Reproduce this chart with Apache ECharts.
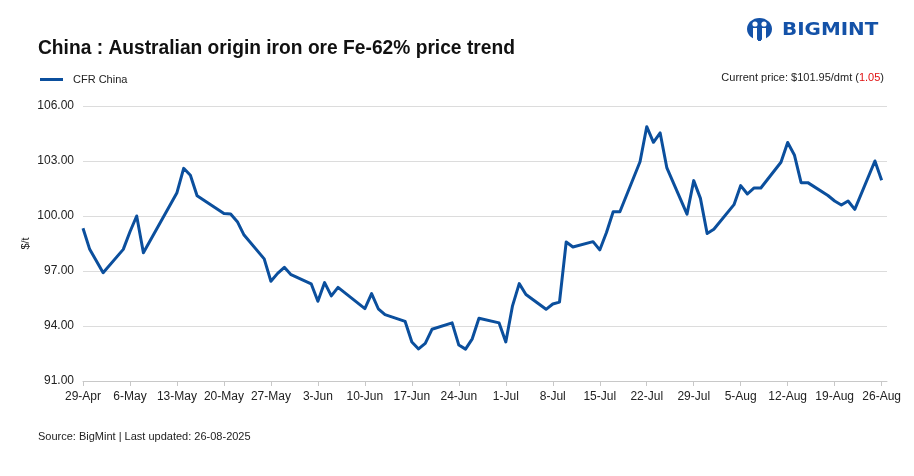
<!DOCTYPE html>
<html>
<head>
<meta charset="utf-8">
<script src="https://cdn.jsdelivr.net/npm/echarts@6/dist/echarts.min.js"></script>
<style>
html,body{margin:0;padding:0;background:#fff;}
#chart{width:914px;height:476px;}
</style>
</head>
<body>
<div id="chart"></div>
<script>
// ---- data ----
var startDate = '2025-04-29';
var dates = [
 '2025-04-29','2025-04-30','2025-05-02','2025-05-05','2025-05-06','2025-05-07','2025-05-08',
 '2025-05-13','2025-05-14','2025-05-15','2025-05-16','2025-05-20','2025-05-21','2025-05-22','2025-05-23',
 '2025-05-26','2025-05-27','2025-05-28','2025-05-29','2025-05-30',
 '2025-06-02','2025-06-03','2025-06-04','2025-06-05','2025-06-06',
 '2025-06-10','2025-06-11','2025-06-12','2025-06-13',
 '2025-06-16','2025-06-17','2025-06-18','2025-06-19','2025-06-20',
 '2025-06-23','2025-06-24','2025-06-25','2025-06-26','2025-06-27',
 '2025-06-30','2025-07-01','2025-07-02','2025-07-03','2025-07-04',
 '2025-07-07','2025-07-08','2025-07-09','2025-07-10','2025-07-11',
 '2025-07-14','2025-07-15','2025-07-16','2025-07-17','2025-07-18',
 '2025-07-21','2025-07-22','2025-07-23','2025-07-24','2025-07-25',
 '2025-07-28','2025-07-29','2025-07-30','2025-07-31','2025-08-01',
 '2025-08-04','2025-08-05','2025-08-06','2025-08-07','2025-08-08',
 '2025-08-11','2025-08-12','2025-08-13','2025-08-14','2025-08-15',
 '2025-08-18','2025-08-19','2025-08-20','2025-08-21','2025-08-22',
 '2025-08-25','2025-08-26'
];
var cfrChina = [
 99.33,98.18,96.91,98.18,99.14,100.00,98.00,
 101.27,102.60,102.22,101.10,100.13,100.11,99.69,98.96,
 97.66,96.44,96.87,97.20,96.80,
 96.30,95.35,96.37,95.64,96.11,
 94.95,95.77,94.94,94.62,
 94.25,93.13,92.75,93.05,93.82,
 94.17,92.96,92.74,93.30,94.42,
 94.17,93.13,95.10,96.31,95.72,
 94.91,95.20,95.30,98.58,98.31,
 98.60,98.15,99.10,100.23,100.23,
 102.96,104.87,104.02,104.53,102.62,
 100.10,101.93,100.96,99.05,99.28,
 100.62,101.66,101.20,101.53,101.53,
 102.93,104.01,103.33,101.82,101.82,
 101.12,100.82,100.60,100.82,100.36,
 103.00,101.95
];
var tickLabels = ['29-Apr','6-May','13-May','20-May','27-May','3-Jun','10-Jun','17-Jun','24-Jun','1-Jul','8-Jul','15-Jul','22-Jul','29-Jul','5-Aug','12-Aug','19-Aug','26-Aug'];
var seriesName = 'CFR China';
var titleText = 'China : Australian origin iron ore Fe-62% price trend';
var sourceText = 'Source: BigMint | Last updated: 26-08-2025';
var currentPrice = '101.95';
var priceChange = '1.05';

// ---- build ----
var DAY = 86400000;
var t0 = Date.parse(startDate + 'T00:00:00Z');
var seriesData = dates.map(function (d, i) {
  return [(Date.parse(d + 'T00:00:00Z') - t0) / DAY, cfrChina[i]];
});

var FONT = '"Liberation Sans", Arial, sans-serif';
var BLUE = '#0b4f9d';
var LOGO = '#1452a8';
var chart = echarts.init(document.getElementById('chart'));
chart.setOption({
  backgroundColor: '#fff',
  animation: false,
  textStyle: { fontFamily: FONT },
  title: [{
    text: sourceText, left: 33, top: 426,
    textStyle: { fontFamily: FONT, fontSize: 11, fontWeight: 'normal', color: '#222' }
  }],
  legend: {
    left: 35, top: 69, itemWidth: 23, itemHeight: 3, itemGap: 9,
    icon: 'rect',
    textStyle: { fontSize: 11, color: '#222', padding: [0, 0, 0, 5] },
    data: [seriesName]
  },
  grid: { left: 83, right: 27, top: 106, bottom: 95, containLabel: false },
  xAxis: {
    type: 'value', min: 0, max: 119.8, interval: 7,
    axisLine: { show: true, lineStyle: { color: '#c8c8c8', width: 1 } },
    axisTick: { show: true, length: 5, lineStyle: { color: '#c8c8c8' } },
    splitLine: { show: false },
    axisLabel: {
      color: '#222', fontSize: 12, margin: 10, showMaxLabel: false,
      formatter: function (v) { var k = Math.round(v / 7); return (Math.abs(v - k * 7) < 1e-6 && tickLabels[k]) ? tickLabels[k] : ''; }
    }
  },
  yAxis: {
    type: 'value', min: 91, max: 106, interval: 3,
    name: '$/t', nameLocation: 'middle', nameGap: 52, nameRotate: 90, nameMoveOverlap: false,
    nameTextStyle: { color: '#222', fontSize: 11 },
    axisLine: { show: false }, axisTick: { show: false },
    splitLine: { lineStyle: { color: '#dcdcdc', width: 1 } },
    axisLabel: { color: '#222', fontSize: 12, margin: 9, formatter: function (v) { return v.toFixed(2); } }
  },
  series: [{
    name: seriesName, type: 'line', data: seriesData,
    showSymbol: false, symbol: 'none',
    lineStyle: { color: BLUE, width: 3, join: 'round' },
    itemStyle: { color: BLUE }
  }],
  graphic: [
    {
      type: 'text', x: 38, y: 48, scaleX: 0.96,
      style: {
        text: titleText, fontFamily: FONT, fontSize: 20, fontWeight: 'bold', fill: '#111',
        verticalAlign: 'middle', align: 'left'
      }
    },
    {
      type: 'text', right: 30, top: 72,
      style: {
        text: '{a|Current price: $' + currentPrice + '/dmt (}{r|' + priceChange + '}{a|)}',
        rich: {
          a: { fontFamily: FONT, fontSize: 11, fill: '#222' },
          r: { fontFamily: FONT, fontSize: 11, fill: '#e01010' }
        }
      }
    },
    // logo
    { type: 'group', left: 747, top: 18, children: [
      { type: 'ellipse', shape: { cx: 12.5, cy: 11, rx: 12.5, ry: 11 }, style: { fill: LOGO } },
      { type: 'circle', shape: { cx: 8, cy: 6, r: 2.6 }, style: { fill: '#fff' } },
      { type: 'circle', shape: { cx: 17, cy: 6, r: 2.6 }, style: { fill: '#fff' } },
      { type: 'rect', shape: { x: 6, y: 10, width: 4, height: 12 }, style: { fill: '#fff' } },
      { type: 'rect', shape: { x: 15, y: 10, width: 4, height: 12 }, style: { fill: '#fff' } },
      { type: 'rect', shape: { x: 11, y: 16, width: 3, height: 7 }, style: { fill: LOGO } }
    ]},
    { type: 'text', x: 782, y: 31, scaleX: 1.17,
      style: { text: 'BIGMINT', fontFamily: '"DejaVu Sans", sans-serif', fontWeight: 'bold', fontSize: 17, fill: LOGO, verticalAlign: 'middle', align: 'left' } }
  ]
});
</script>
</body>
</html>
